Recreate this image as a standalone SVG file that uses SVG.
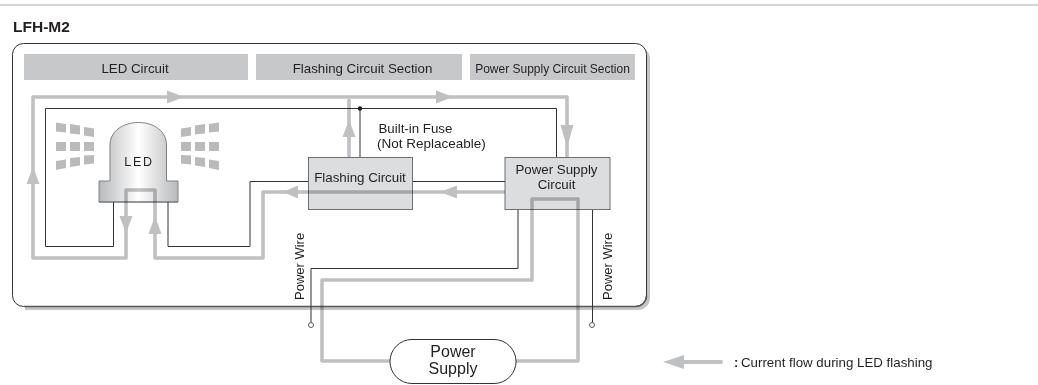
<svg xmlns="http://www.w3.org/2000/svg" width="1038" height="385" viewBox="0 0 1038 385">
<style>
text{font-family:"Liberation Sans",Arial,sans-serif;fill:#231f20}
.hdr{fill:#c7c8ca}
.box{fill:#dcddde;stroke:#6d6e71;stroke-width:1}
.wire{fill:none;stroke:#333;stroke-width:1}
.flow{fill:none;stroke:#bfc0c2;stroke-width:3.600;stroke-linejoin:round}
.head{fill:#bfc0c2}
.ray{fill:#b9babc}
.t{font-size:13.300px;text-anchor:middle}
</style>
<defs>
<linearGradient id="ledGrad" x1="0" x2="1" y1="0" y2="0">
<stop offset="0" stop-color="#b8b9bb"/><stop offset="0.5" stop-color="#ffffff"/><stop offset="1" stop-color="#b8b9bb"/>
</linearGradient>
</defs>
<rect width="1038" height="385" fill="#fff"/>
<path d="M0 5H1038" stroke="#a7a9ac" stroke-width="1"/>
<text x="13" y="31.500" font-weight="bold" style="font-size:15.500px">LFH-M2</text>

<g id="frame">
<path d="M25 47H638a12 12 0 0 1 12 12V298a12 12 0 0 1-12 12H25z" fill="#c4c5c7"/>
<rect x="12.500" y="43.500" width="634" height="263" rx="11" fill="#fff" stroke="#333" stroke-width="1"/>
<path d="M24 306.500H635a11 11 0 0 0 11.500-11" fill="none" stroke="#58595b" stroke-width="1.600"/>
</g>

<g id="led-circuit-header"><rect class="hdr" x="24" y="54" width="224" height="26"/><text class="t" x="135" y="73">LED Circuit</text></g>
<g id="flashing-section-header"><rect class="hdr" x="256" y="54" width="206" height="26"/><text class="t" x="362.500" y="73">Flashing Circuit Section</text></g>
<g id="power-section-header"><rect class="hdr" x="470" y="54" width="165" height="26"/><text x="552.500" y="73" text-anchor="middle" style="font-size:12px">Power Supply Circuit Section</text></g>

<g id="led">
<g id="light-left">
<polygon class="ray" points="56,122.500 66,124 66,132.500 56,131.500"/><polygon class="ray" points="70,124 80,125.500 80,134.500 70,133.500"/><polygon class="ray" points="84,127 94,128.500 94,137 84,135.500"/>
<rect class="ray" x="56" y="142" width="10" height="9"/><rect class="ray" x="70" y="142" width="10" height="9"/><rect class="ray" x="84" y="142" width="10" height="9"/>
<polygon class="ray" points="56,161 66,159.500 66,168 56,170"/><polygon class="ray" points="70,158 80,157 80,165.500 70,167"/><polygon class="ray" points="84,155.500 94,155 94,163.500 84,164.500"/>
</g>
<g id="light-right">
<polygon class="ray" points="219,122.500 209,124 209,132.500 219,131.500"/><polygon class="ray" points="205,124 195,125.500 195,134.500 205,133.500"/><polygon class="ray" points="191,127 181,128.500 181,137 191,135.500"/>
<rect class="ray" x="209" y="142" width="10" height="9"/><rect class="ray" x="195" y="142" width="10" height="9"/><rect class="ray" x="181" y="142" width="10" height="9"/>
<polygon class="ray" points="219,161 209,159.500 209,168 219,170"/><polygon class="ray" points="205,158 195,157 195,165.500 205,167"/><polygon class="ray" points="191,155.500 181,155 181,163.500 191,164.500"/>
</g>
<path d="M99 202V181H110V145C110 132 122 122.500 138.500 122.500S166.500 132 166.500 145V181H178V202Z" fill="url(#ledGrad)" stroke="#808285" stroke-width="1"/>
<path d="M99 202H178" stroke="#6d6e71" stroke-width="1"/>
<text x="139" y="165.500" text-anchor="middle" style="font-size:12.500px;letter-spacing:1.800px">LED</text>
</g>

<g id="flashing-circuit"><rect class="box" x="308.500" y="157.500" width="104" height="52"/><text class="t" x="360" y="181.500">Flashing Circuit</text></g>
<g id="power-supply-circuit"><rect class="box" x="505" y="157.500" width="105" height="52"/><text class="t" x="556.500" y="173.500">Power Supply</text><text class="t" x="556.500" y="188.500">Circuit</text></g>
<g id="power-supply"><rect x="390" y="339.500" width="126" height="44" rx="22" fill="#fff" stroke="#333" stroke-width="1"/><text x="453" y="357" text-anchor="middle" style="font-size:16px">Power</text><text x="453" y="374" text-anchor="middle" style="font-size:16px">Supply</text></g>

<g id="connectors">
<g id="wires">
<path class="wire" d="M113.500 202V246.500H45.500V108.500H556.500V157"/>
<path class="wire" d="M168 202V246.500H250V181.500H308"/>
<path class="wire" d="M360 108.500V157"/>
<path class="wire" d="M413 181.500H505"/>
<path class="wire" d="M518 210V268.500H311V322.500"/>
<path class="wire" d="M592.500 210V322.500"/>
<circle cx="360" cy="108.500" r="2.200" fill="#231f20"/>
<circle cx="311" cy="325" r="2.500" fill="#fff" stroke="#333" stroke-width="0.800"/>
<circle cx="592" cy="325" r="2.500" fill="#fff" stroke="#333" stroke-width="0.800"/>
</g>
<g id="current-flow" style="mix-blend-mode:multiply">
<path class="flow" d="M505 192H263V258H155V190H126V258H33V97H567V157"/>
<path class="flow" d="M349 157V99"/>
<path class="flow" d="M390 361H322V280H532V199H578V361H516"/>
<polygon class="head" points="167,90.500 184,97 167,103.500"/>
<polygon class="head" points="436,90.500 453,97 436,103.500"/>
<polygon class="head" points="33,167 39.500,184 26.500,184"/>
<polygon class="head" points="349,120 355.500,137 342.500,137"/>
<polygon class="head" points="567,147 573.500,125 560.500,125"/>
<polygon class="head" points="126,233 132.500,216 119.500,216"/>
<polygon class="head" points="155,216 161.500,234 148.500,234"/>
<polygon class="head" points="283,192 298,185.500 298,198.500"/>
<polygon class="head" points="440,192 457,185.500 457,198.500"/>
</g>
</g>

<text x="304" y="300" transform="rotate(-90 304 300)" style="font-size:13px">Power Wire</text>
<text x="611.500" y="300" transform="rotate(-90 611.500 300)" style="font-size:13px">Power Wire</text>
<text x="378.500" y="133" style="font-size:13.300px">Built-in Fuse</text>
<text x="377" y="148" style="font-size:13.500px">(Not Replaceable)</text>

<g id="legend">
<path d="M680 362H721" stroke="#bfc0c2" stroke-width="4" stroke-linecap="round"/>
<polygon class="head" points="663,362 684,355 684,369"/>
<text x="734" y="366.500" font-weight="bold" style="font-size:13px">:</text>
<text x="741" y="366.500" style="font-size:13.300px">Current flow during LED flashing</text>
</g>
</svg>
